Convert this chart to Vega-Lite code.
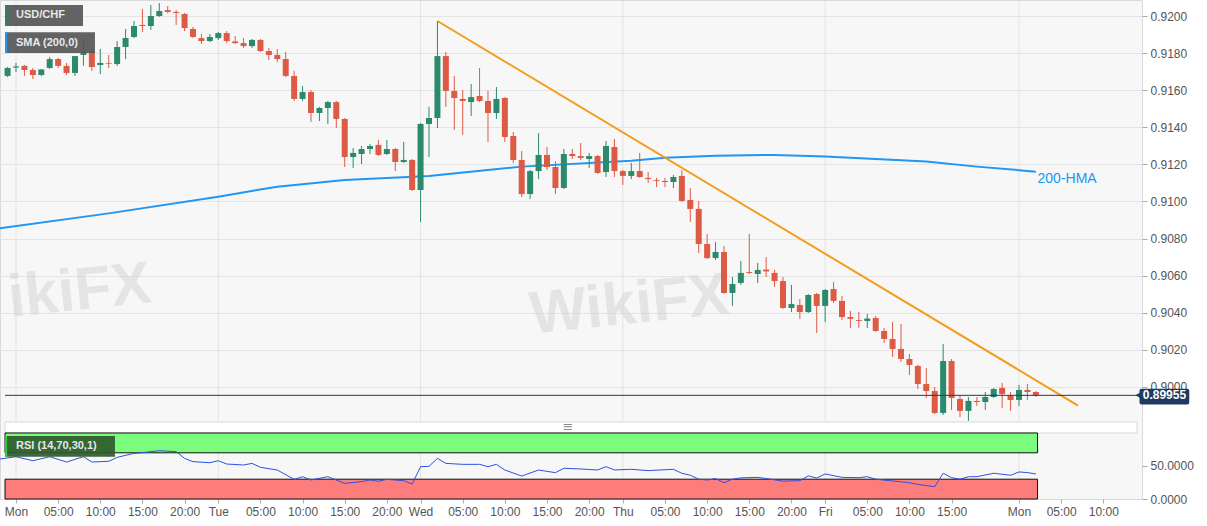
{
  "$schema": "https://vega.github.io/schema/vega-lite/v6.json",
  "description": "USD/CHF hourly candles with 200-HMA, falling trendline and RSI",
  "autosize": {"type": "fit", "contains": "padding"},
  "width": 1207,
  "height": 526,
  "padding": 0,
  "background": "white",
  "config": {
    "font": "Liberation Sans",
    "view": {"fill": "#f7f7f7", "stroke": "#d9d9d9"},
    "axis": {"labelFont": "Liberation Sans", "labelColor": "#555555", "labelFontSize": 12, "tickColor": "#aaaaaa", "domain": false}
  },
  "datasets": {
    "candles": [
      {"t": -1, "o": 0.91677, "h": 0.91725, "l": 0.91671, "c": 0.9172},
      {"t": 0, "o": 0.91722, "h": 0.91747, "l": 0.91698, "c": 0.91728},
      {"t": 1, "o": 0.91731, "h": 0.91736, "l": 0.91677, "c": 0.91709},
      {"t": 2, "o": 0.91709, "h": 0.9172, "l": 0.9166, "c": 0.91682},
      {"t": 3, "o": 0.91682, "h": 0.91714, "l": 0.91677, "c": 0.91712},
      {"t": 4, "o": 0.9172, "h": 0.91779, "l": 0.91714, "c": 0.91768},
      {"t": 5, "o": 0.91768, "h": 0.91774, "l": 0.9172, "c": 0.91731},
      {"t": 6, "o": 0.91731, "h": 0.91747, "l": 0.91682, "c": 0.91693},
      {"t": 7, "o": 0.91693, "h": 0.91784, "l": 0.91677, "c": 0.91784},
      {"t": 8, "o": 0.9179, "h": 0.91881, "l": 0.91731, "c": 0.91806},
      {"t": 9, "o": 0.91811, "h": 0.91817, "l": 0.91704, "c": 0.91725},
      {"t": 10, "o": 0.91736, "h": 0.91822, "l": 0.91687, "c": 0.91747},
      {"t": 11, "o": 0.91747, "h": 0.9179, "l": 0.9172, "c": 0.91743},
      {"t": 12, "o": 0.91741, "h": 0.91865, "l": 0.91731, "c": 0.91833},
      {"t": 13, "o": 0.91833, "h": 0.9193, "l": 0.91768, "c": 0.91881},
      {"t": 14, "o": 0.91887, "h": 0.91973, "l": 0.91881, "c": 0.91946},
      {"t": 15, "o": 0.91952, "h": 0.92038, "l": 0.91914, "c": 0.91946},
      {"t": 16, "o": 0.91946, "h": 0.92059, "l": 0.91925, "c": 0.92},
      {"t": 17, "o": 0.92, "h": 0.9207, "l": 0.91995, "c": 0.92027},
      {"t": 18, "o": 0.92032, "h": 0.92054, "l": 0.92016, "c": 0.92022},
      {"t": 19, "o": 0.92022, "h": 0.92032, "l": 0.91952, "c": 0.92016},
      {"t": 20, "o": 0.92011, "h": 0.92016, "l": 0.91919, "c": 0.91935},
      {"t": 21, "o": 0.9193, "h": 0.91941, "l": 0.91881, "c": 0.91887},
      {"t": 22, "o": 0.91881, "h": 0.91903, "l": 0.91849, "c": 0.91865},
      {"t": 23, "o": 0.91865, "h": 0.91903, "l": 0.9186, "c": 0.91887},
      {"t": 24, "o": 0.91881, "h": 0.91914, "l": 0.91871, "c": 0.91908},
      {"t": 25, "o": 0.91908, "h": 0.91919, "l": 0.91854, "c": 0.91865},
      {"t": 26, "o": 0.91863, "h": 0.91892, "l": 0.91849, "c": 0.91854},
      {"t": 27, "o": 0.91854, "h": 0.91881, "l": 0.91828, "c": 0.91838},
      {"t": 28, "o": 0.91838, "h": 0.91876, "l": 0.91828, "c": 0.91871},
      {"t": 29, "o": 0.91871, "h": 0.91876, "l": 0.91806, "c": 0.91811},
      {"t": 30, "o": 0.91811, "h": 0.91828, "l": 0.91763, "c": 0.9179},
      {"t": 31, "o": 0.9179, "h": 0.91822, "l": 0.91752, "c": 0.91768},
      {"t": 32, "o": 0.91768, "h": 0.91806, "l": 0.91671, "c": 0.91677},
      {"t": 33, "o": 0.91677, "h": 0.91704, "l": 0.91542, "c": 0.91553},
      {"t": 34, "o": 0.91553, "h": 0.91623, "l": 0.91542, "c": 0.9159},
      {"t": 35, "o": 0.9159, "h": 0.91601, "l": 0.91429, "c": 0.91477},
      {"t": 36, "o": 0.91477, "h": 0.9151, "l": 0.91434, "c": 0.91504},
      {"t": 37, "o": 0.91504, "h": 0.91542, "l": 0.91418, "c": 0.91536},
      {"t": 38, "o": 0.91536, "h": 0.91542, "l": 0.91396, "c": 0.91445},
      {"t": 39, "o": 0.91445, "h": 0.9145, "l": 0.91186, "c": 0.9124},
      {"t": 40, "o": 0.9124, "h": 0.91288, "l": 0.91181, "c": 0.91262},
      {"t": 41, "o": 0.91256, "h": 0.91299, "l": 0.91202, "c": 0.91283},
      {"t": 42, "o": 0.91283, "h": 0.9131, "l": 0.91256, "c": 0.91299},
      {"t": 43, "o": 0.91305, "h": 0.91332, "l": 0.91245, "c": 0.91251},
      {"t": 44, "o": 0.91256, "h": 0.91332, "l": 0.91251, "c": 0.91283},
      {"t": 45, "o": 0.91283, "h": 0.91288, "l": 0.91164, "c": 0.91213},
      {"t": 46, "o": 0.91213, "h": 0.91321, "l": 0.91208, "c": 0.91224},
      {"t": 47, "o": 0.91224, "h": 0.91229, "l": 0.91057, "c": 0.91062},
      {"t": 48, "o": 0.91062, "h": 0.91423, "l": 0.9089, "c": 0.91418},
      {"t": 49, "o": 0.91418, "h": 0.9151, "l": 0.9124, "c": 0.9145},
      {"t": 50, "o": 0.9145, "h": 0.91973, "l": 0.91396, "c": 0.91784},
      {"t": 51, "o": 0.91784, "h": 0.91806, "l": 0.9151, "c": 0.91596},
      {"t": 52, "o": 0.91596, "h": 0.91677, "l": 0.91386, "c": 0.91558},
      {"t": 53, "o": 0.91553, "h": 0.91601, "l": 0.91359, "c": 0.91542},
      {"t": 54, "o": 0.91536, "h": 0.91634, "l": 0.91461, "c": 0.91563},
      {"t": 55, "o": 0.91569, "h": 0.9172, "l": 0.91536, "c": 0.91542},
      {"t": 56, "o": 0.91542, "h": 0.91596, "l": 0.91321, "c": 0.91477},
      {"t": 57, "o": 0.91477, "h": 0.91617, "l": 0.91445, "c": 0.91553},
      {"t": 58, "o": 0.91558, "h": 0.91563, "l": 0.91321, "c": 0.91348},
      {"t": 59, "o": 0.91353, "h": 0.91375, "l": 0.91208, "c": 0.91224},
      {"t": 60, "o": 0.91224, "h": 0.91272, "l": 0.91024, "c": 0.9104},
      {"t": 61, "o": 0.9104, "h": 0.9117, "l": 0.91014, "c": 0.91164},
      {"t": 62, "o": 0.91164, "h": 0.91369, "l": 0.91121, "c": 0.91251},
      {"t": 63, "o": 0.91251, "h": 0.91294, "l": 0.9117, "c": 0.91186},
      {"t": 64, "o": 0.91186, "h": 0.91218, "l": 0.9104, "c": 0.91073},
      {"t": 65, "o": 0.91073, "h": 0.91283, "l": 0.91067, "c": 0.91256},
      {"t": 66, "o": 0.91256, "h": 0.91283, "l": 0.91229, "c": 0.91245},
      {"t": 67, "o": 0.91245, "h": 0.91315, "l": 0.91224, "c": 0.91235},
      {"t": 68, "o": 0.91229, "h": 0.91262, "l": 0.91181, "c": 0.91245},
      {"t": 69, "o": 0.91245, "h": 0.91251, "l": 0.91149, "c": 0.91154},
      {"t": 70, "o": 0.91159, "h": 0.91326, "l": 0.91132, "c": 0.91299},
      {"t": 71, "o": 0.91294, "h": 0.91337, "l": 0.91132, "c": 0.91164},
      {"t": 72, "o": 0.91164, "h": 0.9117, "l": 0.91089, "c": 0.91138},
      {"t": 73, "o": 0.91138, "h": 0.91208, "l": 0.91121, "c": 0.91164},
      {"t": 74, "o": 0.91164, "h": 0.91262, "l": 0.91127, "c": 0.91132},
      {"t": 75, "o": 0.91127, "h": 0.91159, "l": 0.911, "c": 0.91121},
      {"t": 76, "o": 0.91116, "h": 0.91127, "l": 0.91078, "c": 0.91111},
      {"t": 77, "o": 0.91111, "h": 0.91127, "l": 0.91078, "c": 0.91105},
      {"t": 78, "o": 0.91105, "h": 0.91143, "l": 0.91073, "c": 0.91132},
      {"t": 79, "o": 0.91138, "h": 0.9117, "l": 0.90997, "c": 0.91003},
      {"t": 80, "o": 0.91008, "h": 0.91073, "l": 0.9089, "c": 0.9096},
      {"t": 81, "o": 0.9096, "h": 0.91003, "l": 0.90722, "c": 0.90771},
      {"t": 82, "o": 0.90771, "h": 0.90825, "l": 0.9069, "c": 0.90695},
      {"t": 83, "o": 0.90695, "h": 0.90782, "l": 0.90685, "c": 0.90728},
      {"t": 84, "o": 0.90728, "h": 0.9076, "l": 0.90501, "c": 0.90507},
      {"t": 85, "o": 0.90507, "h": 0.90593, "l": 0.90437, "c": 0.90555},
      {"t": 86, "o": 0.90561, "h": 0.90679, "l": 0.9055, "c": 0.90615},
      {"t": 87, "o": 0.9062, "h": 0.90825, "l": 0.90609, "c": 0.90615},
      {"t": 88, "o": 0.90609, "h": 0.90669, "l": 0.90561, "c": 0.90631},
      {"t": 89, "o": 0.90633, "h": 0.90701, "l": 0.90593, "c": 0.90623},
      {"t": 90, "o": 0.90615, "h": 0.90631, "l": 0.90539, "c": 0.90571},
      {"t": 91, "o": 0.90571, "h": 0.90593, "l": 0.90421, "c": 0.90426},
      {"t": 92, "o": 0.90426, "h": 0.9055, "l": 0.90404, "c": 0.90447},
      {"t": 93, "o": 0.90442, "h": 0.90474, "l": 0.90367, "c": 0.90404},
      {"t": 94, "o": 0.90404, "h": 0.90501, "l": 0.90399, "c": 0.90496},
      {"t": 95, "o": 0.90501, "h": 0.90507, "l": 0.90291, "c": 0.90437},
      {"t": 96, "o": 0.90437, "h": 0.90528, "l": 0.9035, "c": 0.90523},
      {"t": 97, "o": 0.90528, "h": 0.90566, "l": 0.90453, "c": 0.90464},
      {"t": 98, "o": 0.90464, "h": 0.90491, "l": 0.90361, "c": 0.90377},
      {"t": 99, "o": 0.90377, "h": 0.9041, "l": 0.90318, "c": 0.90367},
      {"t": 100, "o": 0.90361, "h": 0.90404, "l": 0.90318, "c": 0.90356},
      {"t": 101, "o": 0.90356, "h": 0.90394, "l": 0.90318, "c": 0.90369},
      {"t": 102, "o": 0.90372, "h": 0.90383, "l": 0.90297, "c": 0.90302},
      {"t": 103, "o": 0.90302, "h": 0.90318, "l": 0.90237, "c": 0.90259},
      {"t": 104, "o": 0.90259, "h": 0.9035, "l": 0.90162, "c": 0.90205},
      {"t": 105, "o": 0.90205, "h": 0.9034, "l": 0.90135, "c": 0.90151},
      {"t": 106, "o": 0.90151, "h": 0.90178, "l": 0.90065, "c": 0.90119},
      {"t": 107, "o": 0.90113, "h": 0.90119, "l": 0.89989, "c": 0.90016},
      {"t": 108, "o": 0.90016, "h": 0.90102, "l": 0.89941, "c": 0.89978},
      {"t": 109, "o": 0.89978, "h": 0.9, "l": 0.89854, "c": 0.8986},
      {"t": 110, "o": 0.8986, "h": 0.90232, "l": 0.89849, "c": 0.9014},
      {"t": 111, "o": 0.9014, "h": 0.90151, "l": 0.89876, "c": 0.89941},
      {"t": 112, "o": 0.89935, "h": 0.89952, "l": 0.89838, "c": 0.89871},
      {"t": 113, "o": 0.89871, "h": 0.89946, "l": 0.89817, "c": 0.89925},
      {"t": 114, "o": 0.89925, "h": 0.89946, "l": 0.89898, "c": 0.89919},
      {"t": 115, "o": 0.89919, "h": 0.89973, "l": 0.89876, "c": 0.89946},
      {"t": 116, "o": 0.89946, "h": 0.89995, "l": 0.89941, "c": 0.89989},
      {"t": 117, "o": 0.89995, "h": 0.90022, "l": 0.89887, "c": 0.89962},
      {"t": 118, "o": 0.89952, "h": 0.89973, "l": 0.89871, "c": 0.8993},
      {"t": 119, "o": 0.8993, "h": 0.90011, "l": 0.89898, "c": 0.89984},
      {"t": 120, "o": 0.89984, "h": 0.90016, "l": 0.8993, "c": 0.89973},
      {"t": 121, "o": 0.89973, "h": 0.89978, "l": 0.89946, "c": 0.89955}
    ],
    "hma": [
      {"t": -1.9, "v": 0.90856}, {"t": 11, "v": 0.90936}, {"t": 24, "v": 0.91026}, {"t": 31, "v": 0.9108},
      {"t": 39, "v": 0.91116}, {"t": 49, "v": 0.91138}, {"t": 60, "v": 0.91188}, {"t": 73, "v": 0.9122},
      {"t": 77, "v": 0.91236}, {"t": 83, "v": 0.91247}, {"t": 90, "v": 0.91251}, {"t": 96, "v": 0.91242},
      {"t": 108, "v": 0.91215}, {"t": 114, "v": 0.91188}, {"t": 121, "v": 0.91161}
    ],
    "rsi": [
      {"t": -1.9, "r": 60.6}, {"t": 0, "r": 64.1}, {"t": 2, "r": 58}, {"t": 4, "r": 64.1}, {"t": 6, "r": 56},
      {"t": 8, "r": 64.1}, {"t": 9, "r": 56}, {"t": 11, "r": 57.1}, {"t": 12, "r": 63.1}, {"t": 14, "r": 69.2},
      {"t": 15, "r": 70.2}, {"t": 17, "r": 73.2}, {"t": 19, "r": 71.7}, {"t": 20, "r": 61.6}, {"t": 21, "r": 56.6},
      {"t": 23, "r": 55}, {"t": 24, "r": 58}, {"t": 25, "r": 53}, {"t": 27, "r": 51.5}, {"t": 28, "r": 54},
      {"t": 29, "r": 48}, {"t": 31, "r": 43.9}, {"t": 33, "r": 29.8}, {"t": 34, "r": 33.8}, {"t": 35, "r": 28.8},
      {"t": 37, "r": 33.8}, {"t": 39, "r": 23.7}, {"t": 41, "r": 26.3}, {"t": 42, "r": 28.8}, {"t": 43, "r": 26.8},
      {"t": 44, "r": 29.8}, {"t": 46, "r": 27.8}, {"t": 47, "r": 22.7}, {"t": 48, "r": 49}, {"t": 49, "r": 49.5},
      {"t": 50, "r": 61.6}, {"t": 51, "r": 54}, {"t": 53, "r": 52.5}, {"t": 55, "r": 52.5}, {"t": 56, "r": 49},
      {"t": 57, "r": 52.5}, {"t": 58, "r": 43.9}, {"t": 60, "r": 34.8}, {"t": 62, "r": 43.9}, {"t": 64, "r": 39.9},
      {"t": 65, "r": 46.5}, {"t": 67, "r": 45.5}, {"t": 69, "r": 44}, {"t": 70, "r": 49}, {"t": 71, "r": 44},
      {"t": 73, "r": 45}, {"t": 75, "r": 43}, {"t": 78, "r": 45}, {"t": 79, "r": 39}, {"t": 80, "r": 36},
      {"t": 81, "r": 30}, {"t": 82, "r": 28.8}, {"t": 83, "r": 31}, {"t": 84, "r": 24.7}, {"t": 85, "r": 30},
      {"t": 86, "r": 32}, {"t": 88, "r": 32.8}, {"t": 89, "r": 31}, {"t": 91, "r": 27}, {"t": 93, "r": 27.8},
      {"t": 94, "r": 35}, {"t": 95, "r": 31.8}, {"t": 96, "r": 37.9}, {"t": 98, "r": 32.8}, {"t": 100, "r": 32.3},
      {"t": 101, "r": 33.8}, {"t": 102, "r": 30}, {"t": 106, "r": 24.7}, {"t": 107, "r": 22}, {"t": 109, "r": 18.7},
      {"t": 110, "r": 39}, {"t": 111, "r": 32.3}, {"t": 112, "r": 30}, {"t": 113, "r": 33.8}, {"t": 114, "r": 33.8},
      {"t": 116, "r": 39}, {"t": 118, "r": 36}, {"t": 119, "r": 41}, {"t": 120, "r": 40}, {"t": 121, "r": 38}
    ],
    "days": [{"t": 0}, {"t": 24}, {"t": 48}, {"t": 72}, {"t": 96}, {"t": 119}]
  },
  "encoding": {
    "x": {"field": "t", "type": "quantitative", "title": null,
          "scale": {"domain": [-1.305, 133], "nice": false, "zero": false},
          "axis": {"values": [0, 5, 10, 15, 20, 24, 29, 34, 39, 44, 48, 53, 58, 63, 68, 72, 77, 82, 87, 92, 96, 101, 106, 111, 119, 124, 129],
                   "labelExpr": "datum.value == 0 || datum.value == 119 ? 'Mon' : datum.value == 24 ? 'Tue' : datum.value == 48 ? 'Wed' : datum.value == 72 ? 'Thu' : datum.value == 96 ? 'Fri' : ((datum.value > 119 ? datum.value - 119 : datum.value % 24) < 10 ? '0' : '') + (datum.value > 119 ? datum.value - 119 : datum.value % 24) + ':00'",
                   "grid": false, "tickSize": 4, "labelPadding": 3, "labelOverlap": false, "labelFlush": false,
                   "minExtent": 27, "maxExtent": 27}}
  },
  "resolve": {"scale": {"y": "independent"}, "axis": {"y": "independent"}},
  "layer": [
    {
      "layer": [
        {
          "data": {"name": "days"},
          "mark": {"type": "rule", "color": "#e3e3e3", "strokeWidth": 1},
          "encoding": {
            "y": {"datum": 0.920809, "type": "quantitative", "title": null,
                  "scale": {"domain": [0.893961, 0.920863], "nice": false, "zero": false},
                  "axis": {"orient": "right", "values": [0.9, 0.902, 0.904, 0.906, 0.908, 0.91, 0.912, 0.914, 0.916, 0.918, 0.92],
                           "format": ".4f", "grid": true, "gridColor": "#e4e4e4", "tickSize": 5, "labelPadding": 3,
                           "minExtent": 65, "maxExtent": 65}},
            "y2": {"datum": 0.898113}
          }
        },
        {
          "data": {"values": [{"t": 61, "p": 0.90383, "label": "WikiFX"}, {"t": -0.9, "p": 0.90474, "label": "ikiFX"}]},
          "mark": {"type": "text", "fontSize": 60, "fontWeight": "bold", "color": "#cfcfcf", "opacity": 0.45, "angle": 354, "align": "left", "baseline": "middle"},
          "encoding": {
            "y": {"field": "p", "type": "quantitative", "title": null},
            "text": {"field": "label"}
          }
        },
        {
          "data": {"name": "hma"},
          "mark": {"type": "line", "color": "#2196f3", "strokeWidth": 2, "clip": true},
          "encoding": {"y": {"field": "v", "type": "quantitative", "title": null}}
        },
        {
          "data": {"values": [{"t": 50, "v": 0.91973}, {"t": 126, "v": 0.899}]},
          "mark": {"type": "line", "color": "#f59c1a", "strokeWidth": 2},
          "encoding": {"y": {"field": "v", "type": "quantitative", "title": null}}
        },
        {
          "data": {"name": "candles"},
          "mark": {"type": "rule", "strokeWidth": 1},
          "encoding": {
            "y": {"field": "l", "type": "quantitative", "title": null},
            "y2": {"field": "h"},
            "color": {"condition": {"test": "datum.c >= datum.o", "value": "#2b8a6b"}, "value": "#dd5a45"}
          }
        },
        {
          "data": {"name": "candles"},
          "mark": {"type": "bar", "size": 6, "clip": true},
          "encoding": {
            "y": {"field": "o", "type": "quantitative", "title": null},
            "y2": {"field": "c"},
            "color": {"condition": {"test": "datum.c >= datum.o", "value": "#2b8a6b"}, "value": "#dd5a45"}
          }
        },
        {
          "data": {"values": [{"t": -1.305, "t2": 133, "p": 0.89955}]},
          "mark": {"type": "rule", "color": "#1f3a5f", "strokeWidth": 1},
          "encoding": {
            "x2": {"field": "t2"},
            "y": {"field": "p", "type": "quantitative", "title": null}
          }
        },
        {
          "data": {"values": [{"t": -1.305, "t2": 133, "p1": 0.898113, "p2": 0.897519}]},
          "mark": {"type": "rect", "color": "white", "stroke": "#d9d9d9", "strokeWidth": 1},
          "encoding": {
            "x2": {"field": "t2"},
            "y": {"field": "p1", "type": "quantitative", "title": null},
            "y2": {"field": "p2"}
          }
        },
        {
          "data": {"values": [{"t": 65.5, "p": 0.897816, "label": "≡"}]},
          "mark": {"type": "text", "color": "#8a8a8a", "fontSize": 13, "font": "DejaVu Sans", "baseline": "middle"},
          "encoding": {
            "y": {"field": "p", "type": "quantitative", "title": null},
            "text": {"field": "label"}
          }
        },
        {
          "data": {"values": [{"t": 133.3, "t2": 139.2, "p1": 0.89991, "p2": 0.89906}]},
          "mark": {"type": "rect", "color": "#1f3a5f", "cornerRadius": 2},
          "encoding": {
            "x2": {"field": "t2"},
            "y": {"field": "p1", "type": "quantitative", "title": null},
            "y2": {"field": "p2"}
          }
        },
        {
          "data": {"values": [{"t": 133.1, "p": 0.89955}]},
          "mark": {"type": "point", "shape": "triangle-left", "filled": true, "size": 30, "color": "#1f3a5f", "opacity": 1},
          "encoding": {"y": {"field": "p", "type": "quantitative", "title": null}}
        },
        {
          "data": {"values": [{"t": 136.25, "p": 0.89955, "label": "0.89955"}]},
          "mark": {"type": "text", "color": "white", "fontWeight": "bold", "fontSize": 12, "align": "center", "baseline": "middle"},
          "encoding": {
            "y": {"field": "p", "type": "quantitative", "title": null},
            "text": {"field": "label"}
          }
        },
        {
          "data": {"values": [{"t": -1.3, "t2": 7.95, "p1": 0.92059, "p2": 0.91946}, {"t": -1.3, "t2": 9.37, "p1": 0.91913, "p2": 0.91801}]},
          "mark": {"type": "rect", "color": "#565656", "opacity": 0.92},
          "encoding": {
            "x2": {"field": "t2"},
            "y": {"field": "p1", "type": "quantitative", "title": null},
            "y2": {"field": "p2"}
          }
        },
        {
          "data": {"values": [{"t": -1.3, "t2": -1.05, "p1": 0.92059, "p2": 0.91946}]},
          "mark": {"type": "rect", "color": "#2f7f69"},
          "encoding": {
            "x2": {"field": "t2"},
            "y": {"field": "p1", "type": "quantitative", "title": null},
            "y2": {"field": "p2"}
          }
        },
        {
          "data": {"values": [{"t": -1.3, "t2": -1.05, "p1": 0.91913, "p2": 0.91801}]},
          "mark": {"type": "rect", "color": "#2196f3"},
          "encoding": {
            "x2": {"field": "t2"},
            "y": {"field": "p1", "type": "quantitative", "title": null},
            "y2": {"field": "p2"}
          }
        },
        {
          "data": {"values": [{"t": 0, "p": 0.92003, "label": "USD/CHF"}, {"t": 0, "p": 0.91857, "label": "SMA (200,0)"}]},
          "mark": {"type": "text", "color": "#e8e8e8", "fontSize": 11, "fontWeight": "bold", "align": "left", "baseline": "middle"},
          "encoding": {
            "y": {"field": "p", "type": "quantitative", "title": null},
            "text": {"field": "label"}
          }
        },
        {
          "data": {"values": [{"t": 121.2, "p": 0.91122, "label": "200-HMA"}]},
          "mark": {"type": "text", "color": "#2196f3", "fontSize": 14, "align": "left", "baseline": "middle"},
          "encoding": {
            "y": {"field": "p", "type": "quantitative", "title": null},
            "text": {"field": "label"}
          }
        }
      ]
    },
    {
      "layer": [
        {
          "data": {"name": "days"},
          "mark": {"type": "rule", "color": "#e3e3e3", "strokeWidth": 1},
          "encoding": {
            "y": {"datum": 0, "type": "quantitative", "title": null,
                  "scale": {"domain": [0, 756.06], "nice": false, "zero": false},
                  "axis": {"orient": "right", "values": [0, 50], "format": ".4f", "grid": false, "tickSize": 5, "labelPadding": 3,
                           "minExtent": 65, "maxExtent": 65}},
            "y2": {"datum": 100}
          }
        },
        {
          "data": {"values": [{"t": -1.305, "t2": 121.2, "r1": 70, "r2": 100}]},
          "mark": {"type": "rect", "color": "#7cfc7c", "stroke": "#111111", "strokeWidth": 1},
          "encoding": {
            "x2": {"field": "t2"},
            "y": {"field": "r1", "type": "quantitative", "title": null},
            "y2": {"field": "r2"}
          }
        },
        {
          "data": {"values": [{"t": -1.305, "t2": 121.2, "r1": 0, "r2": 30}]},
          "mark": {"type": "rect", "color": "#fd7d7d", "stroke": "#111111", "strokeWidth": 1},
          "encoding": {
            "x2": {"field": "t2"},
            "y": {"field": "r1", "type": "quantitative", "title": null},
            "y2": {"field": "r2"}
          }
        },
        {
          "data": {"name": "rsi"},
          "mark": {"type": "line", "color": "#3050e0", "strokeWidth": 1, "clip": true},
          "encoding": {"y": {"field": "r", "type": "quantitative", "title": null}}
        },
        {
          "data": {"values": [{"t": -1.3, "t2": 11.74, "r1": 64.1, "r2": 95.5}]},
          "mark": {"type": "rect", "color": "#2e5a2e", "opacity": 0.92},
          "encoding": {
            "x2": {"field": "t2"},
            "y": {"field": "r1", "type": "quantitative", "title": null},
            "y2": {"field": "r2"}
          }
        },
        {
          "data": {"values": [{"t": -1.3, "t2": -1.05, "r1": 64.1, "r2": 95.5}]},
          "mark": {"type": "rect", "color": "#33cc33"},
          "encoding": {
            "x2": {"field": "t2"},
            "y": {"field": "r1", "type": "quantitative", "title": null},
            "y2": {"field": "r2"}
          }
        },
        {
          "data": {"values": [{"t": 0, "r": 80, "label": "RSI (14,70,30,1)"}]},
          "mark": {"type": "text", "color": "#e8e8e8", "fontSize": 11, "fontWeight": "bold", "align": "left", "baseline": "middle"},
          "encoding": {
            "y": {"field": "r", "type": "quantitative", "title": null},
            "text": {"field": "label"}
          }
        }
      ]
    }
  ]
}
